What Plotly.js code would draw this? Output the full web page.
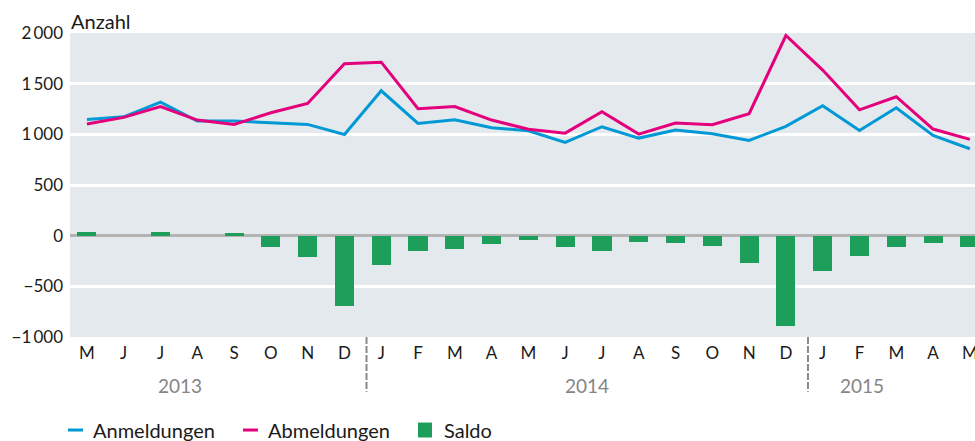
<!DOCTYPE html>
<html>
<head>
<meta charset="utf-8">
<script src="https://cdn.plot.ly/plotly-3.0.1.min.js"></script>
<style>html,body{margin:0;padding:0;background:#fff;}#chart{width:975px;height:441px;}</style>
</head>
<body>
<div id="chart"></div>
<script>
// Months May 2013 – May 2015
var months = ["M","J","J","A","S","O","N","D","J","F","M","A","M","J","J","A","S","O","N","D","J","F","M","A","M"];
var years = ["2013","2014","2015"];
var yearCenters = [2.52, 13.6, 21.07];
var yearBreaks = [7.6, 19.6];
var anmeldungen = [1147,1173,1318,1131,1131,1114,1098,999,1430,1107,1144,1065,1035,920,1075,963,1042,1006,940,1078,1282,1038,1262,989,858];
var abmeldungen = [1101,1167,1275,1141,1098,1213,1305,1696,1712,1252,1275,1141,1050,1012,1223,1002,1111,1094,1203,1975,1634,1242,1371,1052,950];
var saldo = [40,0,40,0,30,-107,-213,-690,-290,-155,-136,-87,-39,-107,-155,-58,-74,-97,-271,-892,-349,-204,-116,-68,-107];
var seriesNames = ["Anmeldungen","Abmeldungen","Saldo"];

var cBlue = "#0099d6", cPink = "#e4007c", cGreen = "#1d9e5a";
var idx = months.map(function(_, i){ return i; });
var font = "Lato, 'Source Sans Pro', sans-serif";

var traces = [
  {type:"bar", x:idx, y:saldo, name:seriesNames[2], marker:{color:cGreen}, width:0.52, showlegend:false, hoverinfo:"y"},
  {type:"scatter", mode:"lines", x:idx, y:anmeldungen, name:seriesNames[0], line:{color:cBlue, width:3}, showlegend:false},
  {type:"scatter", mode:"lines", x:idx, y:abmeldungen, name:seriesNames[1], line:{color:cPink, width:3}, showlegend:false}
];

var shapes = [];
yearBreaks.forEach(function(b){
  shapes.push({type:"line", xref:"x", yref:"paper", x0:b, x1:b, y0:0, y1:-0.18,
    line:{color:"#8a8a8a", width:2, dash:"7px,2px"}});
});
var legY = -0.306;
// legend marks
shapes.push({type:"line", xref:"paper", yref:"paper", x0:-0.0022, x1:0.0144, y0:legY, y1:legY, line:{color:cBlue, width:3}});
shapes.push({type:"line", xref:"paper", yref:"paper", x0:0.1912, x1:0.2077, y0:legY, y1:legY, line:{color:cPink, width:3}});
shapes.push({type:"rect", xref:"paper", yref:"paper", x0:0.3845, x1:0.4000, y0:legY+0.0246, y1:legY-0.0246, line:{width:0}, fillcolor:cGreen});

var annotations = [
  {text:"Anzahl", xref:"paper", yref:"paper", x:0, y:1.0, xanchor:"left", yanchor:"bottom", showarrow:false, yshift:-2, xshift:-1,
   font:{family:font, size:20, color:"#1a1a1a"}}
];
years.forEach(function(y, i){
  annotations.push({text:y, xref:"x", yref:"paper", x:yearCenters[i], y:-0.158, xanchor:"center", yanchor:"middle", showarrow:false,
    font:{family:font, size:19, color:"#858585"}});
});
var legX = [0.0243, 0.2177, 0.4122];
seriesNames.forEach(function(n, i){
  annotations.push({text:n, xref:"paper", yref:"paper", x:legX[i], y:legY, xanchor:"left", yanchor:"middle", showarrow:false,
    xshift:-1, font:{family:font, size:20, color:"#1a1a1a"}});
});

var layout = {
  width:975, height:441,
  margin:{l:70, r:0, t:33, b:104, pad:0},
  paper_bgcolor:"#ffffff", plot_bgcolor:"#e4e9ed",
  font:{family:font, size:17, color:"#1a1a1a"},
  separators:",\u2009",
  showlegend:false,
  bargap:0,
  xaxis:{range:[-0.46, 24.14], tickvals:idx, ticktext:months, showgrid:false, zeroline:false, showline:false,
    ticks:"", ticklabelstandoff:4, ticklabeloverflow:"allow", tickfont:{family:font, size:17, color:"#1a1a1a"}, fixedrange:true},
  yaxis:{range:[-1000, 2000], dtick:500, tick0:0, separatethousands:true, showgrid:true, gridcolor:"#ffffff", gridwidth:3,
    zeroline:true, zerolinecolor:"#b3b3b3", zerolinewidth:3, showline:false, ticks:"", ticklabelstandoff:6,
    tickfont:{family:font, size:17, color:"#1a1a1a"}, fixedrange:true},
  shapes:shapes,
  annotations:annotations
};

Plotly.newPlot("chart", traces, layout, {displayModeBar:false, staticPlot:true});
</script>
</body>
</html>
